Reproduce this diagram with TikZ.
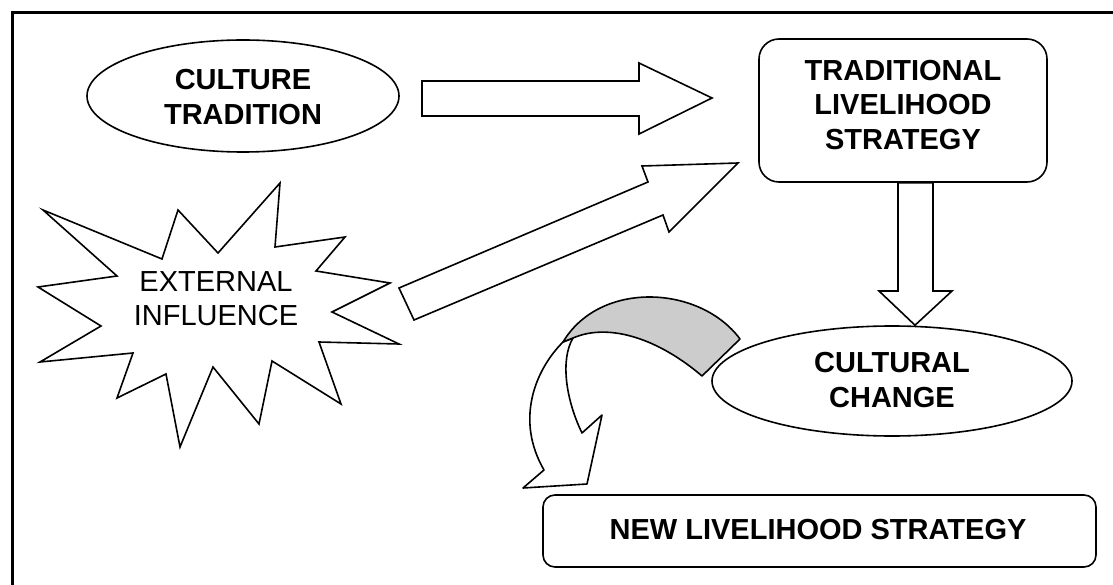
\documentclass[tikz,border=0pt]{standalone}
\usepackage{fontspec}
\setmainfont{Liberation Sans}
\usetikzlibrary{shapes.geometric}
\begin{document}
\begin{tikzpicture}[x=1pt,y=-1pt,
  outline/.style={draw=black,line width=1.6pt,line join=miter},
  bigtext/.style={align=center,font=\fontsize{29}{34.5}\selectfont\bfseries,inner sep=0pt},
  plaintext/.style={align=center,font=\fontsize{29}{34.5}\selectfont,inner sep=0pt},
  oval/.style={outline,ellipse,fill=white,inner sep=0pt},
  roundbox/.style={outline,rectangle,fill=white,inner sep=0pt},
  blockarrow/.style={outline,fill=white},
  ribbonface/.style={outline,fill=white,line join=round},
  ribbonback/.style={outline,fill=black!20,line join=round}]
\useasboundingbox (0,0) rectangle (1113,585);

% frame
\draw[line width=3pt] (12.5,585) -- (12.5,12.5) -- (1113,12.5);

% nodes
\node[oval,minimum width=312pt,minimum height=112pt] (culture) at (243,96) {};
\node[bigtext] (culturetext) at (243,97) {CULTURE\\TRADITION};

\node[roundbox,rounded corners=20pt,minimum width=288pt,minimum height=143pt] (trad) at (903,110.5) {};
\node[bigtext] (tradtext) at (903,105) {TRADITIONAL\\LIVELIHOOD\\STRATEGY};

\node[oval,minimum width=360pt,minimum height=110pt] (change) at (892,381) {};
\node[bigtext] (changetext) at (892,380) {CULTURAL\\CHANGE};

\node[roundbox,rounded corners=12pt,minimum width=553pt,minimum height=72pt] (newls) at (819.5,531) {};
\node[bigtext] (newlstext) at (818,530) {NEW LIVELIHOOD STRATEGY};

% starburst
\draw[outline,fill=white] (43,210) -- (162,259) -- (178,210) -- (218,253) -- (280,183)
  -- (275,247) -- (345,237) -- (316,271) -- (390,283) -- (332,312) -- (399,344)
  -- (319,342) -- (341,404) -- (272,361) -- (259,424) -- (213,367) -- (180,447)
  -- (166,374) -- (117,398) -- (133,353) -- (40,362) -- (101,326) -- (38,287)
  -- (117,276) -- cycle;
\node[plaintext] (external) at (216,298.5) {EXTERNAL\\INFLUENCE};

% block arrows
\draw[blockarrow] (422,81) -- (639,81) -- (639,63) -- (712,98) -- (639,134)
  -- (639,116) -- (422,116) -- cycle;
\draw[blockarrow] (399,288) -- (648,182) -- (642,166) -- (738,163) -- (669,232)
  -- (663,215) -- (414,320) -- cycle;
\draw[blockarrow] (trad.south -| 898,0) -- (898,291) -- (879,291) -- (change.north -| 915,0)
  -- (952,291) -- (933,291) -- (trad.south -| 933,0) -- cycle;

% curved arrow: front face with head, then shaded back of the ribbon
\draw[ribbonface] (563,342) .. controls (535,370) and (515,420) .. (544,470)
  -- (523,488) -- (587,484) -- (602,415) -- (582,433)
  .. controls (566,400) and (560,360) .. (573,338) -- cycle;
\draw[ribbonback] (740,339) .. controls (700,285) and (600,280) .. (563,342)
  -- (573,338) .. controls (610,322) and (660,340) .. (702,376) -- cycle;
\end{tikzpicture}
\end{document}
